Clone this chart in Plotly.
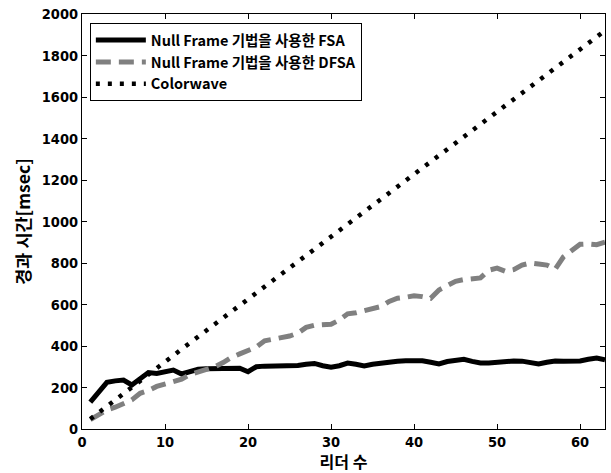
import plotly.graph_objects as go

leaders = list(range(1, 64))

fsa = [130, 180, 225, 232, 236, 212, 240, 272, 268, 278, 284, 265, 275, 288, 290,
       290, 290, 292, 293, 276, 300, 303, 304, 303, 300, 306, 312, 316, 305, 298,
       305, 318, 312, 304, 312, 318, 320, 326, 329, 330, 329, 322, 314, 325, 330,
       336, 326, 318, 318, 322, 326, 328, 327, 320, 313, 322, 328, 326, 324, 328,
       336, 342, 334]

dfsa = [45, 70, 92, 105, 120, 140, 172, 185, 205, 215, 228, 240, 262, 276, 285,
        300, 320, 345, 362, 378, 395, 425, 432, 440, 448, 462, 490, 500, 505, 505,
        525, 555, 560, 570, 580, 590, 615, 630, 635, 642, 638, 630, 670, 690, 712,
        720, 725, 728, 765, 775, 760, 768, 790, 800, 795, 790, 770, 830, 860, 890,
        892, 888, 900]

colorwave = [48, 78, 110, 140, 172, 202, 232, 262, 294, 324, 354, 385, 415, 445,
             475, 505, 535, 565, 595, 625, 655, 688, 718, 748, 778, 808, 838, 868,
             898, 928, 958, 988, 1018, 1048, 1078, 1108, 1138, 1170, 1200, 1230,
             1260, 1290, 1320, 1350, 1380, 1410, 1440, 1470, 1500, 1530, 1560,
             1590, 1620, 1650, 1680, 1710, 1740, 1770, 1800, 1830, 1860, 1890, 1920]

names = ["Null Frame 기법을 사용한 FSA", "Null Frame 기법을 사용한 DFSA", "Colorwave"]

x_ticks = [0, 10, 20, 30, 40, 50, 60]
y_ticks = [0, 200, 400, 600, 800, 1000, 1200, 1400, 1600, 1800, 2000]

FONT = "DejaVu Sans Condensed, Liberation Sans Narrow, Noto Sans CJK KR, sans-serif"
KFONT = "Noto Sans CJK KR, DejaVu Sans Condensed, sans-serif"

fig = go.Figure()
fig.add_trace(go.Scatter(x=leaders, y=fsa, mode="lines", name=names[0],
                         line=dict(color="black", width=5)))
fig.add_trace(go.Scatter(x=leaders, y=dfsa, mode="lines", name=names[1],
                         line=dict(color="#808080", width=5, dash="15px,8px")))
fig.add_trace(go.Scatter(x=leaders, y=colorwave, mode="lines", name=names[2],
                         line=dict(color="black", width=4.5, dash="4px,8px")))

axis_common = dict(showline=True, linecolor="black", linewidth=1, mirror="ticks",
                   ticks="inside", ticklen=5, tickcolor="black", showgrid=False,
                   zeroline=False,
                   tickfont=dict(family=FONT, size=14.5, color="black", weight="bold"))

fig.update_xaxes(range=[0, 63], tickvals=x_ticks, ticktext=[str(v) for v in x_ticks],
                 title=dict(text="리더 수", standoff=5,
                            font=dict(family=KFONT, size=16, color="black", weight="bold")),
                 **axis_common)
fig.update_yaxes(range=[0, 2000], tickvals=y_ticks, ticktext=[str(v) for v in y_ticks],
                 title=dict(text="경과 시간[msec]", standoff=6,
                            font=dict(family=KFONT, size=17.5, color="black", weight="bold")),
                 **axis_common)

fig.update_layout(
    width=611, height=473,
    margin=dict(l=82, r=6, t=14, b=44),
    paper_bgcolor="white", plot_bgcolor="white",
    legend=dict(x=0.015, y=0.978, xanchor="left", yanchor="top",
                bgcolor="white", bordercolor="black", borderwidth=1,
                itemwidth=50, tracegroupgap=0,
                font=dict(family=KFONT, size=14.5, color="black", weight="bold")),
    showlegend=True,
)

fig.write_html("out.html")
